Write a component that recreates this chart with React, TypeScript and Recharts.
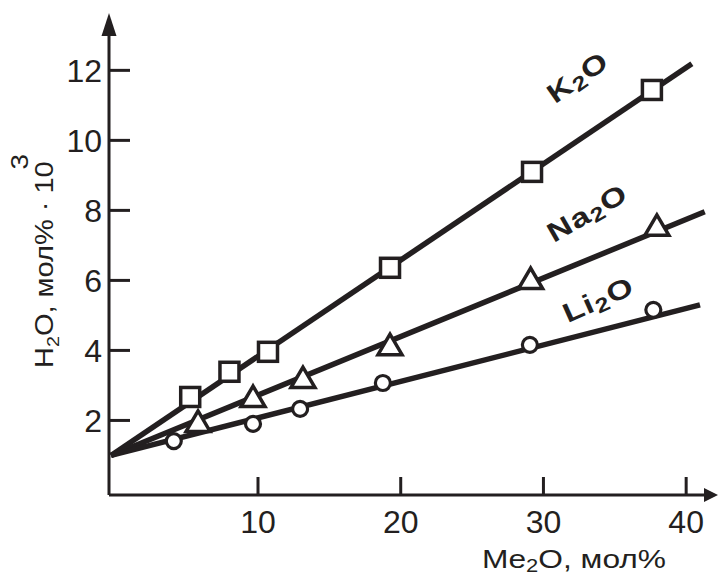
import React from 'react';
import { ComposedChart, Line, Scatter, XAxis, YAxis, ReferenceDot } from 'recharts';

const INK = '#231f20';
const FONT = '"Liberation Sans", Arial, sans-serif';

const xTicks = [10, 20, 30, 40];
const yTicks = [2, 4, 6, 8, 10, 12];

// measured points: Me2O, mol% vs H2O, mol%·10^3
const k2oX = [5.25, 8.0, 10.7, 19.25, 29.2, 37.6];
const k2oY = [2.67, 3.39, 3.96, 6.36, 9.1, 11.44];
const na2oX = [5.8, 9.65, 13.15, 19.25, 29.1, 37.95];
const na2oY = [1.93, 2.64, 3.18, 4.12, 6.01, 7.53];
const li2oX = [4.1, 9.65, 12.95, 18.75, 29.05, 37.7];
const li2oY = [1.41, 1.9, 2.33, 3.07, 4.16, 5.16];

// straight fits, start and end point of each
const k2oFitX = [-0.3, 40.4];
const k2oFitY = [1.0, 12.19];
const na2oFitX = [-0.3, 41.3];
const na2oFitY = [1.0, 7.96];
const li2oFitX = [-0.3, 40.97];
const li2oFitY = [1.0, 5.3];

const toPoints = (xs: number[], ys: number[]) => xs.map((x, i) => ({ x, y: ys[i] }));

const k2o = toPoints(k2oX, k2oY);
const na2o = toPoints(na2oX, na2oY);
const li2o = toPoints(li2oX, li2oY);
const k2oFit = toPoints(k2oFitX, k2oFitY);
const na2oFit = toPoints(na2oFitX, na2oFitY);
const li2oFit = toPoints(li2oFitX, li2oFitY);

const Square = ({ cx, cy }: any) => (
  <rect x={cx - 9.5} y={cy - 9.5} width={19} height={19} fill="#fff" stroke={INK} strokeWidth={3.5} />
);

const Triangle = ({ cx, cy }: any) => (
  <polygon
    points={`${cx},${cy - 12} ${cx - 12},${cy + 8.5} ${cx + 12},${cy + 8.5}`}
    fill="#fff"
    stroke={INK}
    strokeWidth={3.5}
    strokeLinejoin="miter"
  />
);

const Ring = ({ cx, cy }: any) => <circle cx={cx} cy={cy} r={7.5} fill="#fff" stroke={INK} strokeWidth={3.2} />;

// ticks point into the plot, numbers sit outside
const XTick = ({ x, y, payload }: any) => (
  <g>
    <line x1={x} y1={y} x2={x} y2={y - 18} stroke={INK} strokeWidth={3} />
    <text x={x} y={y + 38} textAnchor="middle" fontFamily={FONT} fontSize={32} fill={INK}>
      {payload.value}
    </text>
  </g>
);

const YTick = ({ x, y, payload }: any) => (
  <g>
    <line x1={x} y1={y} x2={x + 21} y2={y} stroke={INK} strokeWidth={3} />
    <text x={x - 7} y={y + 11.5} textAnchor="end" fontFamily={FONT} fontSize={32} fill={INK}>
      {payload.value}
    </text>
  </g>
);

const xTitle = () => (
  <text transform="translate(482, 568) scale(1.22, 1)" fontFamily={FONT} fontSize={26} fill={INK}>
    Me<tspan fontSize={18} dy={4}>2</tspan>
    <tspan dy={-4}>O, мол%</tspan>
  </text>
);

const yTitle = () => (
  <text transform="translate(53, 368) rotate(-90) scale(1.16, 1)" fontFamily={FONT} fontSize={25} fill={INK}>
    H<tspan fontSize={17} dy={6}>2</tspan>
    <tspan dy={-6}>O, мол% · 10</tspan>
    <tspan fontSize={24} dx={-7} dy={-25}>3</tspan>
  </text>
);

const arrowRight = ({ cx, cy }: any) => (
  <polygon points={`${cx - 1},${cy - 7} ${cx + 13},${cy} ${cx - 1},${cy + 7}`} fill={INK} />
);

const arrowUp = ({ cx, cy }: any) => (
  <polygon points={`${cx - 7.5},${cy + 1} ${cx},${cy - 22} ${cx + 7.5},${cy + 1}`} fill={INK} />
);

const seriesLabel = (name: string, angle: number) => ({ cx, cy }: any) => (
  <text
    transform={`translate(${cx}, ${cy}) rotate(${angle}) scale(1.25, 1)`}
    textAnchor="middle"
    fontFamily={FONT}
    fontWeight="bold"
    fontSize={27}
    letterSpacing={1}
    fill={INK}
  >
    {name}
    <tspan fontSize={20} dy={4}>2</tspan>
    <tspan dy={-4}>O</tspan>
  </text>
);

export default function App() {
  return (
    <div style={{ position: 'absolute', left: 0, top: 0, width: 718, height: 579, background: '#fff' }}>
      <ComposedChart width={718} height={579} margin={{ top: 35, right: 13, bottom: 83, left: 108 }}>
        <XAxis
          type="number"
          dataKey="x"
          domain={[-0.44, 41.32]}
          ticks={xTicks}
          tick={<XTick />}
          tickLine={false}
          tickSize={0}
          tickMargin={0}
          height={1}
          axisLine={{ stroke: INK, strokeWidth: 3 }}
          label={xTitle}
        />
        <YAxis
          type="number"
          dataKey="y"
          domain={[-0.13, 13.01]}
          ticks={yTicks}
          tick={<YTick />}
          tickLine={false}
          tickSize={0}
          tickMargin={0}
          width={1}
          axisLine={{ stroke: INK, strokeWidth: 3 }}
          label={yTitle}
        />

        <Line data={k2oFit} dataKey="y" type="linear" stroke={INK} strokeWidth={5.5} dot={false} isAnimationActive={false} />
        <Line data={na2oFit} dataKey="y" type="linear" stroke={INK} strokeWidth={5.5} dot={false} isAnimationActive={false} />
        <Line data={li2oFit} dataKey="y" type="linear" stroke={INK} strokeWidth={5.5} dot={false} isAnimationActive={false} />

        <Scatter data={k2o} shape={Square} isAnimationActive={false} />
        <Scatter data={na2o} shape={Triangle} isAnimationActive={false} />
        <Scatter data={li2o} shape={Ring} isAnimationActive={false} />

        <ReferenceDot x={41.32} y={-0.13} r={0} ifOverflow="visible" shape={arrowRight} />
        <ReferenceDot x={-0.44} y={13.01} r={0} ifOverflow="visible" shape={arrowUp} />

        <ReferenceDot x={32.77} y={11.59} r={0} ifOverflow="visible" shape={seriesLabel('K', -35)} />
        <ReferenceDot x={33.4} y={7.7} r={0} ifOverflow="visible" shape={seriesLabel('Na', -30)} />
        <ReferenceDot x={34.1} y={5.21} r={0} ifOverflow="visible" shape={seriesLabel('Li', -24)} />
      </ComposedChart>
    </div>
  );
}
